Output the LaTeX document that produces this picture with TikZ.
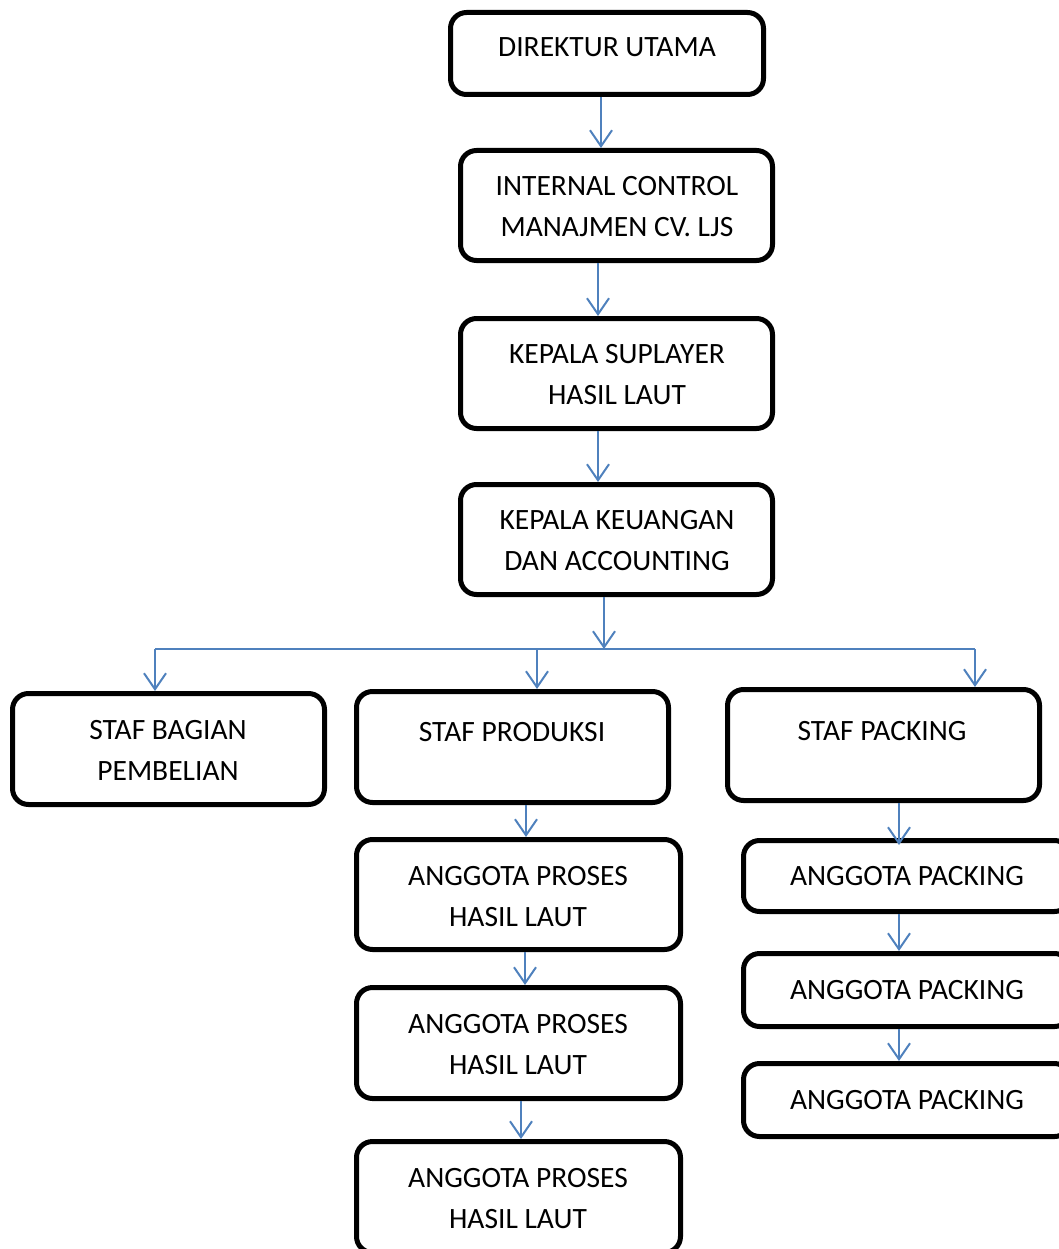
\documentclass[tikz,border=0pt]{standalone}
\usepackage{fontspec}
\setmainfont{Carlito}
\usetikzlibrary{arrows.meta}
\definecolor{arrblue}{HTML}{4F81BD}
\tikzset{
  box/.style={draw=black, line width=5pt, rounded corners=16pt, inner sep=0pt},
  txt/.style={inner sep=0pt, align=center, font=\fontsize{29.5}{41}\selectfont},
  arr/.style={draw=arrblue, line width=2pt, -{Straight Barb[length=16pt,width=22pt,line width=2pt]}},
  ln/.style={draw=arrblue, line width=2pt}
}
\begin{document}
\begin{tikzpicture}[x=1pt,y=-1pt]
\useasboundingbox (0,0) rectangle (1059,1249);
\clip (0,0) rectangle (1059,1249);
% boxes
\node[box, minimum width=313pt, minimum height=82pt] (d) at (607,53.5) {};
\node[box, minimum width=312pt, minimum height=110pt] (ic) at (616.5,205.5) {};
\node[box, minimum width=312pt, minimum height=110pt] (ks) at (616.5,373.5) {};
\node[box, minimum width=312pt, minimum height=110pt] (kk) at (616.5,539.5) {};
\node[box, minimum width=312pt, minimum height=111pt] (sb) at (168.5,749) {};
\node[box, minimum width=312pt, minimum height=111pt] (sp) at (512.5,747) {};
\node[box, minimum width=312pt, minimum height=111pt] (sk) at (883.5,745) {};
\node[box, minimum width=324pt, minimum height=110pt] (a1) at (518.5,894.5) {};
\node[box, minimum width=324pt, minimum height=111pt] (a2) at (518.5,1043) {};
\node[box, minimum width=324pt, minimum height=111pt] (a3) at (518.5,1197) {};
\node[box, minimum width=327pt, minimum height=71pt] (p1) at (907,876) {};
\node[box, minimum width=327pt, minimum height=73pt] (p2) at (907,990) {};
\node[box, minimum width=327pt, minimum height=73pt] (p3) at (907,1100) {};
% texts
\node[txt] (td) at (607,47) {DIREKTUR UTAMA};
\node[txt] (tic) at (617,206.5) {INTERNAL CONTROL\\MANAJMEN CV. LJS};
\node[txt] (tks) at (617,374.5) {KEPALA SUPLAYER\\HASIL LAUT};
\node[txt] (tkk) at (617,540.5) {KEPALA KEUANGAN\\DAN ACCOUNTING};
\node[txt] (tsb) at (168,750.5) {STAF BAGIAN\\PEMBELIAN};
\node[txt] (tsp) at (512,732) {STAF PRODUKSI};
\node[txt] (tsk) at (882,731) {STAF PACKING};
\node[txt] (ta1) at (518,896.5) {ANGGOTA PROSES\\HASIL LAUT};
\node[txt] (ta2) at (518,1044.5) {ANGGOTA PROSES\\HASIL LAUT};
\node[txt] (ta3) at (518,1198.5) {ANGGOTA PROSES\\HASIL LAUT};
\node[txt] (tp1) at (907,876) {ANGGOTA PACKING};
\node[txt] (tp2) at (907,990) {ANGGOTA PACKING};
\node[txt] (tp3) at (907,1100) {ANGGOTA PACKING};
% connectors
\draw[arr] ([xshift=-6pt]d.south) -- ([xshift=-15.5pt]ic.north);
\draw[arr] ([xshift=-18.5pt]ic.south) -- ([xshift=-18.5pt]ks.north);
\draw[arr] ([xshift=-18.5pt]ks.south) -- ([xshift=-18.5pt]kk.north);
\coordinate (j) at (604,649);
\coordinate (jl) at (155,649);
\coordinate (jm) at (537,649);
\coordinate (jr) at (975,649);
\draw[arr] ([xshift=-12.5pt]kk.south) -- (j);
\draw[ln] (jl) -- (jr);
\draw[arr] (jl) -- ([xshift=-13.5pt]sb.north);
\draw[arr] (jm) -- ([xshift=24.5pt]sp.north);
\draw[arr] (jr) -- ([xshift=91.5pt]sk.north);
\draw[arr] ([xshift=13.5pt]sp.south) -- ([xshift=7.5pt]a1.north);
\draw[arr] ([xshift=6.5pt]a1.south) -- ([xshift=6.5pt]a2.north);
\draw[arr] ([xshift=2.5pt]a2.south) -- ([xshift=2.5pt]a3.north);
\draw[arr] ([xshift=15.5pt]sk.south) -- ([xshift=-8pt,yshift=-7pt]p1.north);
\draw[arr] ([xshift=-8pt]p1.south) -- ([xshift=-8pt]p2.north);
\draw[arr] ([xshift=-8pt]p2.south) -- ([xshift=-8pt]p3.north);
\end{tikzpicture}
\end{document}
